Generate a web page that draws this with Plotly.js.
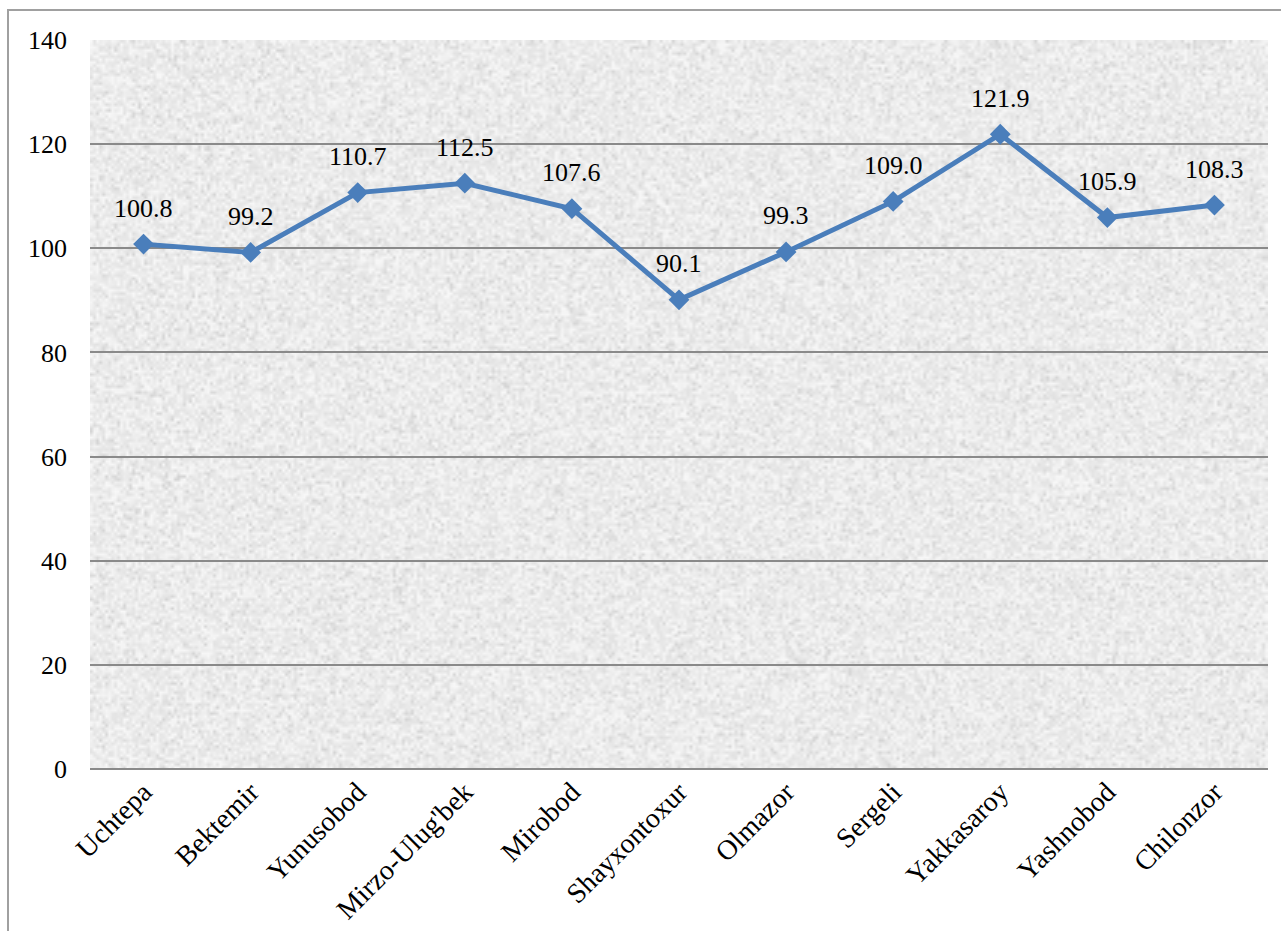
<!DOCTYPE html>
<html>
<head>
<meta charset="utf-8">
<script src="https://cdn.plot.ly/plotly-3.0.1.min.js"></script>
<style>
  html, body { margin: 0; padding: 0; background: #ffffff; overflow: hidden; }
  #frame { position: absolute; left: 7px; top: 9px; width: 1400px; height: 1100px; border: 2px solid #a0a0a0; box-sizing: border-box; }
  #chart { position: absolute; left: 0; top: 0; width: 1281px; height: 931px; }
</style>
</head>
<body>
<div id="frame"></div>
<div id="chart"></div>
<script>
const districts = ["Uchtepa", "Bektemir", "Yunusobod", "Mirzo-Ulug'bek", "Mirobod", "Shayxontoxur", "Olmazor", "Sergeli", "Yakkasaroy", "Yashnobod", "Chilonzor"];
const growthValues = [100.8, 99.2, 110.7, 112.5, 107.6, 90.1, 99.3, 109.0, 121.9, 105.9, 108.3];
const yTickValues = [0, 20, 40, 60, 80, 100, 120, 140];

const font = "'Liberation Serif', 'Times New Roman', serif";

// decorative paper-like texture for the plot background (deterministic hash noise)
function makeTexture(w, h) {
  const small = document.createElement('canvas');
  const sw = Math.round(w / 3), sh = Math.round(h / 3);
  small.width = sw; small.height = sh;
  const sctx = small.getContext('2d');
  const img = sctx.createImageData(sw, sh);
  for (let j = 0; j < sh; j++) {
    for (let i = 0; i < sw; i++) {
      let n = Math.sin(i * 12.9898 + j * 78.233) * 43758.5453;
      n = n - Math.floor(n);
      let m = Math.sin(i * 3.13 + j * 9.71 + 1.7) * 12345.6789;
      m = m - Math.floor(m);
      const v = Math.round(248 - n * 22 - (m > 0.85 ? 14 : 0));
      const k = (j * sw + i) * 4;
      img.data[k] = v; img.data[k + 1] = v; img.data[k + 2] = v; img.data[k + 3] = 255;
    }
  }
  sctx.putImageData(img, 0, 0);
  const big = document.createElement('canvas');
  big.width = w; big.height = h;
  const bctx = big.getContext('2d');
  bctx.imageSmoothingEnabled = true;
  bctx.drawImage(small, 0, 0, w, h);
  return big.toDataURL('image/png');
}

const trace = {
  type: 'scatter',
  mode: 'lines+markers',
  x: districts,
  y: growthValues,
  line: { color: '#4a7ebb', width: 5 },
  marker: { symbol: 'diamond', size: 16, color: '#4a7ebb' },
  hoverinfo: 'x+y'
};

const annotations = districts.map((d, i) => ({
  x: d, y: growthValues[i], xref: 'x', yref: 'y',
  text: growthValues[i].toFixed(1),
  showarrow: false, yshift: 36,
  font: { family: font, size: 26, color: '#000000' }
}));

const layout = {
  width: 1281, height: 931,
  margin: { l: 90, r: 13, t: 40, b: 162, pad: 0 },
  paper_bgcolor: 'rgba(0,0,0,0)',
  plot_bgcolor: '#e6e6e6',
  showlegend: false,
  font: { family: font, size: 26, color: '#000000' },
  images: [{
    source: makeTexture(1178, 729),
    xref: 'paper', yref: 'paper', x: 0, y: 1, sizex: 1, sizey: 1,
    xanchor: 'left', yanchor: 'top', sizing: 'stretch', layer: 'below'
  }],
  xaxis: {
    type: 'category',
    range: [-0.5, 10.5],
    tickangle: -45,
    showgrid: false,
    showline: false,
    ticks: '',
    tickfont: { family: font, size: 28, color: '#000000' },
    zeroline: false,
    fixedrange: true
  },
  yaxis: {
    range: [0, 140],
    tickvals: yTickValues,
    ticktext: yTickValues.map(String),
    showgrid: true,
    gridcolor: '#8a8a8a',
    gridwidth: 2,
    zeroline: true,
    zerolinecolor: '#8a8a8a',
    zerolinewidth: 2,
    showline: false,
    ticks: '',
    ticklabelstandoff: 22,
    tickfont: { family: font, size: 26, color: '#000000' },
    fixedrange: true
  },
  annotations: annotations
};

Plotly.newPlot('chart', [trace], layout, { displayModeBar: false, staticPlot: true });
</script>
</body>
</html>
